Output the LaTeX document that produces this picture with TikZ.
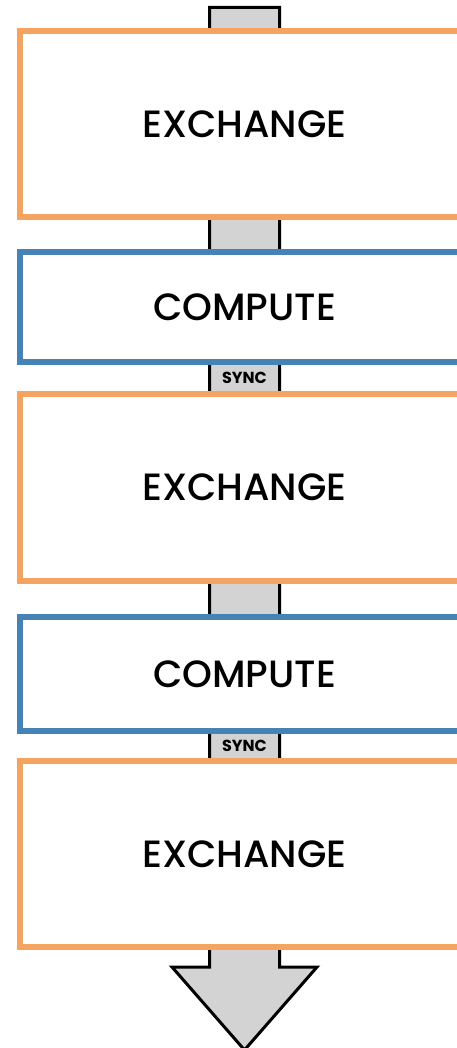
\documentclass[tikz,border=0pt]{standalone}
\usepackage{fontspec}
\setmainfont{Poppins}[UprightFont=* Medium, BoldFont=* Bold]
\definecolor{exorange}{RGB}{244,164,96}
\definecolor{cpblue}{RGB}{70,130,180}
\definecolor{shaftgray}{RGB}{211,211,211}
\begin{document}
\begin{tikzpicture}[x=1pt,y=-1pt,
  phase/.style={draw, line width=6pt, fill=white, rectangle, inner sep=0pt,
    minimum width=449pt, font=\fontsize{38}{44}\selectfont},
  exbox/.style={phase, draw=exorange},
  cpbox/.style={phase, draw=cpblue},
  synclabel/.style={inner sep=0pt, font=\fontsize{16}{18}\selectfont\bfseries}]
\clip (0,0) rectangle (457,1048);
\fill[white] (0,0) rectangle (457,1048);
% flow arrow
\draw[line width=3pt, fill=shaftgray, line join=miter]
  (209.5,7.5) -- (279.5,7.5) -- (279.5,967) -- (317,967) -- (244.5,1050)
  -- (172,967) -- (209.5,967) -- cycle;
\node[exbox, minimum height=186pt] (ex1) at (244.5,124) {EXCHANGE};
\node[cpbox, minimum height=110pt] (cp1) at (244.5,307) {COMPUTE};
\node[exbox, minimum height=187pt] (ex2) at (244.5,487.5) {EXCHANGE};
\node[cpbox, minimum height=114pt] (cp2) at (244.5,674) {COMPUTE};
\node[exbox, minimum height=186pt] (ex3) at (244.5,854) {EXCHANGE};
\node[synclabel] (s1) at (244.5,378) {SYNC};
\node[synclabel] (s2) at (244.5,746) {SYNC};
\end{tikzpicture}
\end{document}
